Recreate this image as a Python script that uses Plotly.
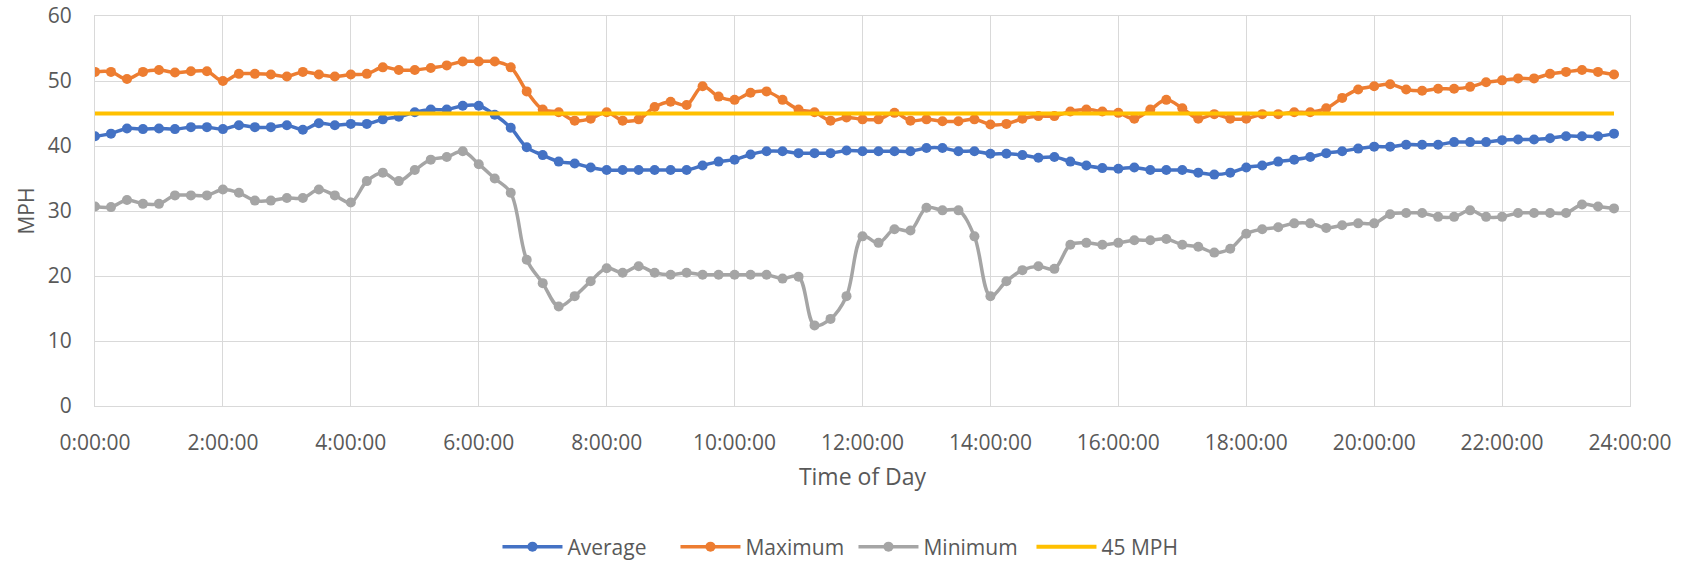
import plotly.graph_objects as go

# 15-minute intervals over one day
interval_hours = [i * 0.25 for i in range(96)]

average_mph = [
    41.5, 41.9, 42.7, 42.6, 42.7, 42.6, 42.9, 42.9, 42.6, 43.2, 42.9, 42.9, 43.2, 42.5, 43.5, 43.2,
    43.4, 43.4, 44.1, 44.5, 45.2, 45.6, 45.6, 46.2, 46.2, 44.8, 42.8, 39.8, 38.6, 37.6, 37.3, 36.7,
    36.3, 36.3, 36.3, 36.3, 36.3, 36.3, 37.0, 37.6, 37.9, 38.7, 39.2, 39.2, 38.9, 38.9, 38.9, 39.3,
    39.2, 39.2, 39.2, 39.2, 39.7, 39.7, 39.2, 39.2, 38.8, 38.8, 38.6, 38.2, 38.3, 37.6, 37.0, 36.6,
    36.5, 36.7, 36.3, 36.3, 36.3, 35.9, 35.6, 35.9, 36.7, 37.0, 37.6, 37.9, 38.3, 38.9, 39.2, 39.6,
    39.9, 39.9, 40.2, 40.2, 40.2, 40.6, 40.6, 40.6, 40.9, 41.0, 41.0, 41.2, 41.5, 41.5, 41.5, 41.9,
]

maximum_mph = [
    51.4, 51.4, 50.3, 51.4, 51.7, 51.3, 51.5, 51.5, 50.0, 51.1, 51.1, 51.0, 50.7, 51.4, 51.0, 50.7,
    51.0, 51.1, 52.1, 51.7, 51.7, 52.0, 52.4, 53.0, 53.0, 53.0, 52.1, 48.4, 45.6, 45.2, 43.9, 44.2,
    45.2, 43.9, 44.1, 46.0, 46.8, 46.3, 49.2, 47.6, 47.1, 48.2, 48.4, 47.1, 45.6, 45.2, 43.9, 44.4,
    44.1, 44.1, 45.1, 43.9, 44.1, 43.8, 43.8, 44.1, 43.3, 43.4, 44.2, 44.6, 44.6, 45.3, 45.6, 45.3,
    45.1, 44.2, 45.6, 47.1, 45.8, 44.2, 44.9, 44.2, 44.2, 44.9, 44.9, 45.2, 45.2, 45.8, 47.4, 48.7,
    49.2, 49.5, 48.7, 48.5, 48.8, 48.8, 49.1, 49.8, 50.1, 50.4, 50.4, 51.1, 51.4, 51.7, 51.4, 51.0,
]

minimum_mph = [
    30.7, 30.6, 31.7, 31.1, 31.1, 32.4, 32.4, 32.4, 33.3, 32.8, 31.6, 31.6, 32.0, 32.0, 33.3, 32.4,
    31.3, 34.6, 35.9, 34.6, 36.3, 37.9, 38.3, 39.2, 37.2, 35.0, 32.8, 22.5, 18.9, 15.3, 16.9, 19.2,
    21.2, 20.5, 21.5, 20.5, 20.2, 20.5, 20.2, 20.2, 20.2, 20.2, 20.2, 19.6, 19.9, 12.4, 13.4, 16.9,
    26.1, 25.1, 27.2, 27.0, 30.5, 30.1, 30.1, 26.1, 16.9, 19.2, 20.9, 21.5, 21.1, 24.8, 25.1, 24.8,
    25.1, 25.5, 25.5, 25.7, 24.8, 24.5, 23.6, 24.2, 26.5, 27.2, 27.5, 28.1, 28.1, 27.4, 27.8, 28.1,
    28.1, 29.5, 29.7, 29.7, 29.1, 29.1, 30.1, 29.1, 29.1, 29.7, 29.7, 29.7, 29.7, 31.0, 30.7, 30.4,
]

speed_limit_mph = [45] * 96

tick_hours = [0, 2, 4, 6, 8, 10, 12, 14, 16, 18, 20, 22, 24]
tick_labels = ["0:00:00", "2:00:00", "4:00:00", "6:00:00", "8:00:00", "10:00:00", "12:00:00",
               "14:00:00", "16:00:00", "18:00:00", "20:00:00", "22:00:00", "24:00:00"]

FONT = "Open Sans"
TEXT_COLOR = "#595959"
GRID_COLOR = "#D9D9D9"

fig = go.Figure()

for name, values, color in [
    ("Average", average_mph, "#4472C4"),
    ("Maximum", maximum_mph, "#ED7D31"),
    ("Minimum", minimum_mph, "#A5A5A5"),
]:
    fig.add_trace(go.Scatter(
        x=interval_hours, y=values, name=name, mode="lines+markers",
        line=dict(color=color, width=3.5, shape="spline", smoothing=1.0),
        marker=dict(color=color, size=10),
    ))

fig.add_trace(go.Scatter(
    x=interval_hours, y=speed_limit_mph, name="45 MPH", mode="lines",
    line=dict(color="#FFC000", width=4),
))

fig.update_layout(
    width=1692, height=565,
    margin=dict(l=95, r=62, t=16, b=159, autoexpand=False),
    paper_bgcolor="white", plot_bgcolor="white",
    font=dict(family=FONT, color=TEXT_COLOR, size=21),
    showlegend=True,
    legend=dict(
        orientation="h", x=0.2622, xanchor="left", y=-0.3615, yanchor="middle",
        font=dict(size=21, color=TEXT_COLOR), itemwidth=60,
        entrywidth=103, entrywidthmode="pixels", traceorder="normal",
    ),
)

fig.update_xaxes(
    range=[0, 24], tickvals=tick_hours, ticktext=tick_labels,
    showgrid=True, gridcolor=GRID_COLOR, gridwidth=1.3,
    showline=True, linecolor=GRID_COLOR, linewidth=1.3, mirror=True,
    ticks="outside", ticklen=18, tickcolor="rgba(0,0,0,0)",
    tickfont=dict(size=21, color=TEXT_COLOR), zeroline=False,
    title=dict(text="Time of Day", font=dict(size=23, color=TEXT_COLOR), standoff=13),
)

fig.update_yaxes(
    range=[0, 60], dtick=10,
    showgrid=True, gridcolor=GRID_COLOR, gridwidth=1.3,
    showline=True, linecolor=GRID_COLOR, linewidth=1.3, mirror=True,
    ticks="outside", ticklen=18, tickcolor="rgba(0,0,0,0)",
    tickfont=dict(size=21, color=TEXT_COLOR), zeroline=False,
    title=dict(text="MPH", font=dict(size=21, color=TEXT_COLOR), standoff=7),
)

fig.write_html("out.html")
